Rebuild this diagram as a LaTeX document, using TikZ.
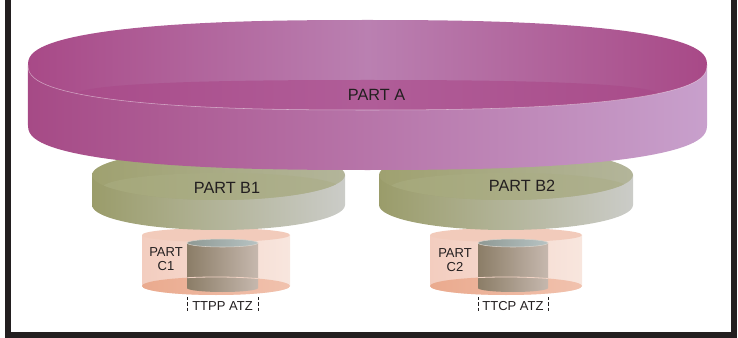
\documentclass[tikz,border=0pt]{standalone}
\usepackage{fontspec}
\setmainfont{Liberation Sans}

\definecolor{inkblack}{HTML}{231F20}
\definecolor{bigtopD}{HTML}{A84987}
\definecolor{bigtopM}{HTML}{BA80B1}
\definecolor{bigfloorD}{HTML}{A94C8A}
\definecolor{bigfloorM}{HTML}{B05D98}
\definecolor{bigsideL}{HTML}{A64A86}
\definecolor{bigsideR}{HTML}{C8A0CC}
\definecolor{traytopL}{HTML}{9FA170}
\definecolor{traytopR}{HTML}{B3B59A}
\definecolor{trayfloorL}{HTML}{A5A87A}
\definecolor{trayfloorR}{HTML}{AEB08F}
\definecolor{traysideL}{HTML}{9A9C6A}
\definecolor{traysideR}{HTML}{CBCCC8}
\definecolor{shellsideL}{HTML}{F3CDBF}
\definecolor{shellsideR}{HTML}{F8E6DE}
\definecolor{shelltopc}{HTML}{F2CBBB}
\definecolor{shellfloorL}{HTML}{EAAA8E}
\definecolor{shellfloorR}{HTML}{F1C2AE}
\definecolor{coresideL}{HTML}{8B7D67}
\definecolor{coresideR}{HTML}{C6B8AE}
\definecolor{corecapL}{HTML}{8E9994}
\definecolor{corecapR}{HTML}{B7C3C3}
\definecolor{corerimc}{HTML}{D9D3CB}
\definecolor{floorlinec}{HTML}{F0D2C4}

\tikzset{every picture/.style={line width=0.75pt}}
\tikzset{
  declare function={
    sqx(\t)=cos(\t)*pow(abs(cos(\t))+0.0001,-0.2);
    sqy(\t)=sin(\t)*pow(abs(sin(\t))+0.0001,-0.2);
  },
  bigside/.style={left color=bigsideL, right color=bigsideR},
  bigtop/.style={left color=bigtopD, right color=bigtopD, middle color=bigtopM},
  bigfloor/.style={left color=bigfloorD, right color=bigfloorD, middle color=bigfloorM},
  rimline/.style={draw=white, draw opacity=0.5, line width=0.4pt},
  trayside/.style={left color=traysideL, right color=traysideR},
  traytop/.style={left color=traytopL, right color=traytopR},
  trayfloor/.style={left color=trayfloorL, right color=trayfloorR},
  shellside/.style={left color=shellsideL, right color=shellsideR},
  shelltop/.style={fill=shelltopc},
  shellfloor/.style={left color=shellfloorL, right color=shellfloorR},
  coreside/.style={left color=coresideL, right color=coresideR},
  corecap/.style={left color=corecapL, right color=corecapR, draw=corerimc, line width=0.4pt},
  floorline/.style={draw=floorlinec, line width=0.6pt},
  partlabel/.style={inner sep=0.75pt, text=inkblack, align=center, font=\fontsize{12.2}{14}\selectfont},
  smalllabel/.style={inner sep=0.75pt, text=inkblack, align=center, font=\fontsize{9.75}{10.5}\selectfont},
  dimmark/.style={draw=inkblack, line width=0.6pt, dash pattern=on 2.5pt off 1.5pt},
  frameline/.style={draw=inkblack, line width=4.5pt}
}

\begin{document}
\begin{tikzpicture}[x=0.75pt,y=0.75pt,yscale=-1,xscale=1]
        \useasboundingbox (0,0) rectangle (738,338);

%Shape: Can [part C1 shell]
        \shade[shellside] (142,235) -- (142,286) arc[start angle=180, end angle=0, x radius=74, y radius=9] -- (290,235) -- cycle ;
        \shade[shellfloor] (216,286) ellipse [x radius=74, y radius=9] ;
        \fill[shelltop] (216,235) ellipse [x radius=74, y radius=7] ;
%Shape: Can [TTPP ATZ core]
        \shade[coreside] (187,243) -- (187,288) arc[start angle=180, end angle=0, x radius=35.5, y radius=4] -- (258,243) -- cycle ;
        \shadedraw[corecap] (222.5,243) ellipse [x radius=35.5, y radius=4] ;
        \begin{scope}
        \clip (187,265) rectangle (258,284) ;
        \draw[floorline] (142,286) arc[start angle=180, end angle=360, x radius=74, y radius=9] ;
        \end{scope}

%Shape: Can [part C2 shell]
        \shade[shellside] (430,235) -- (430,286) arc[start angle=180, end angle=0, x radius=76, y radius=9] -- (582,235) -- cycle ;
        \shade[shellfloor] (506,286) ellipse [x radius=76, y radius=9] ;
        \fill[shelltop] (506,235) ellipse [x radius=76, y radius=7] ;
%Shape: Can [TTCP ATZ core]
        \shade[coreside] (478,243) -- (478,288) arc[start angle=180, end angle=0, x radius=35, y radius=4] -- (548,243) -- cycle ;
        \shadedraw[corecap] (513,243) ellipse [x radius=35, y radius=4] ;
        \begin{scope}
        \clip (478,265) rectangle (548,284) ;
        \draw[floorline] (430,286) arc[start angle=180, end angle=360, x radius=76, y radius=9] ;
        \end{scope}

%Shape: Tray [part B1]
        \shade[trayside] (92,175) -- (92,205) arc[start angle=180, end angle=0, x radius=126.5, y radius=25] -- (345,175) -- cycle ;
        \shade[traytop] (218.5,175) ellipse [x radius=126.5, y radius=25] ;
        \begin{scope}
        \clip (218.5,175) ellipse [x radius=126.5, y radius=25] ;
        \shade[trayfloor] (221,188) ellipse [x radius=119, y radius=15] ;
        \end{scope}

%Shape: Tray [part B2]
        \shade[trayside] (379,175) -- (379,205) arc[start angle=180, end angle=0, x radius=127, y radius=25] -- (633,175) -- cycle ;
        \shade[traytop] (506,175) ellipse [x radius=127, y radius=25] ;
        \begin{scope}
        \clip (506,175) ellipse [x radius=127, y radius=25] ;
        \shade[trayfloor] (509,188) ellipse [x radius=119, y radius=15] ;
        \end{scope}

%Shape: Tray [part A]
        \shade[bigside] (28,65) -- plot[domain=180:0, samples=61] ({367.5+339.5*sqx(\x)},{125+45*sqy(\x)}) -- (707,65) -- cycle ;
        \shade[bigtop] plot[domain=0:360, samples=121] ({367.5+339.5*sqx(\x)},{65+45*sqy(\x)}) -- cycle ;
        \begin{scope}
        \clip plot[domain=0:360, samples=121] ({367.5+339.5*sqx(\x)},{65+45*sqy(\x)}) -- cycle ;
        \shade[bigfloor] plot[domain=0:360, samples=121] ({367.5+292*sqx(\x)},{96+16*sqy(\x)}) -- cycle ;
        \end{scope}
        \draw[rimline] plot[domain=0:180, samples=61] ({367.5+339.5*sqx(\x)},{65+45*sqy(\x)}) ;

% Text Node
        \draw (376.5,95) node (partA) [partlabel] {PART A} ;
% Text Node
        \draw (227,188) node (partB1) [partlabel] {PART B1} ;
% Text Node
        \draw (522,186) node (partB2) [partlabel] {PART B2} ;
% Text Node
        \draw (166,259) node (partC1) [smalllabel] {PART\\C1} ;
% Text Node
        \draw (455,260) node (partC2) [smalllabel] {PART\\C2} ;
% Text Node
        \draw (222.5,306) node (ttpp) [smalllabel] {TTPP ATZ} ;
% Text Node
        \draw (513,306) node (ttcp) [smalllabel] {TTCP ATZ} ;

% Dimension marks
        \coordinate (ttppLt) at (187,297) ; \coordinate (ttppLb) at (187,313) ;
        \coordinate (ttppRt) at (258,297) ; \coordinate (ttppRb) at (258,313) ;
        \coordinate (ttcpLt) at (478,297) ; \coordinate (ttcpLb) at (478,313) ;
        \coordinate (ttcpRt) at (548,297) ; \coordinate (ttcpRb) at (548,313) ;
        \draw[dimmark] (ttppLt) -- (ttppLb) ;
        \draw[dimmark] (ttppRt) -- (ttppRb) ;
        \draw[dimmark] (ttcpLt) -- (ttcpLb) ;
        \draw[dimmark] (ttcpRt) -- (ttcpRb) ;

% Frame
        \draw[frameline] (8,0) -- (8,335) -- (734,335) -- (734,0) ;

\end{tikzpicture}
\end{document}
